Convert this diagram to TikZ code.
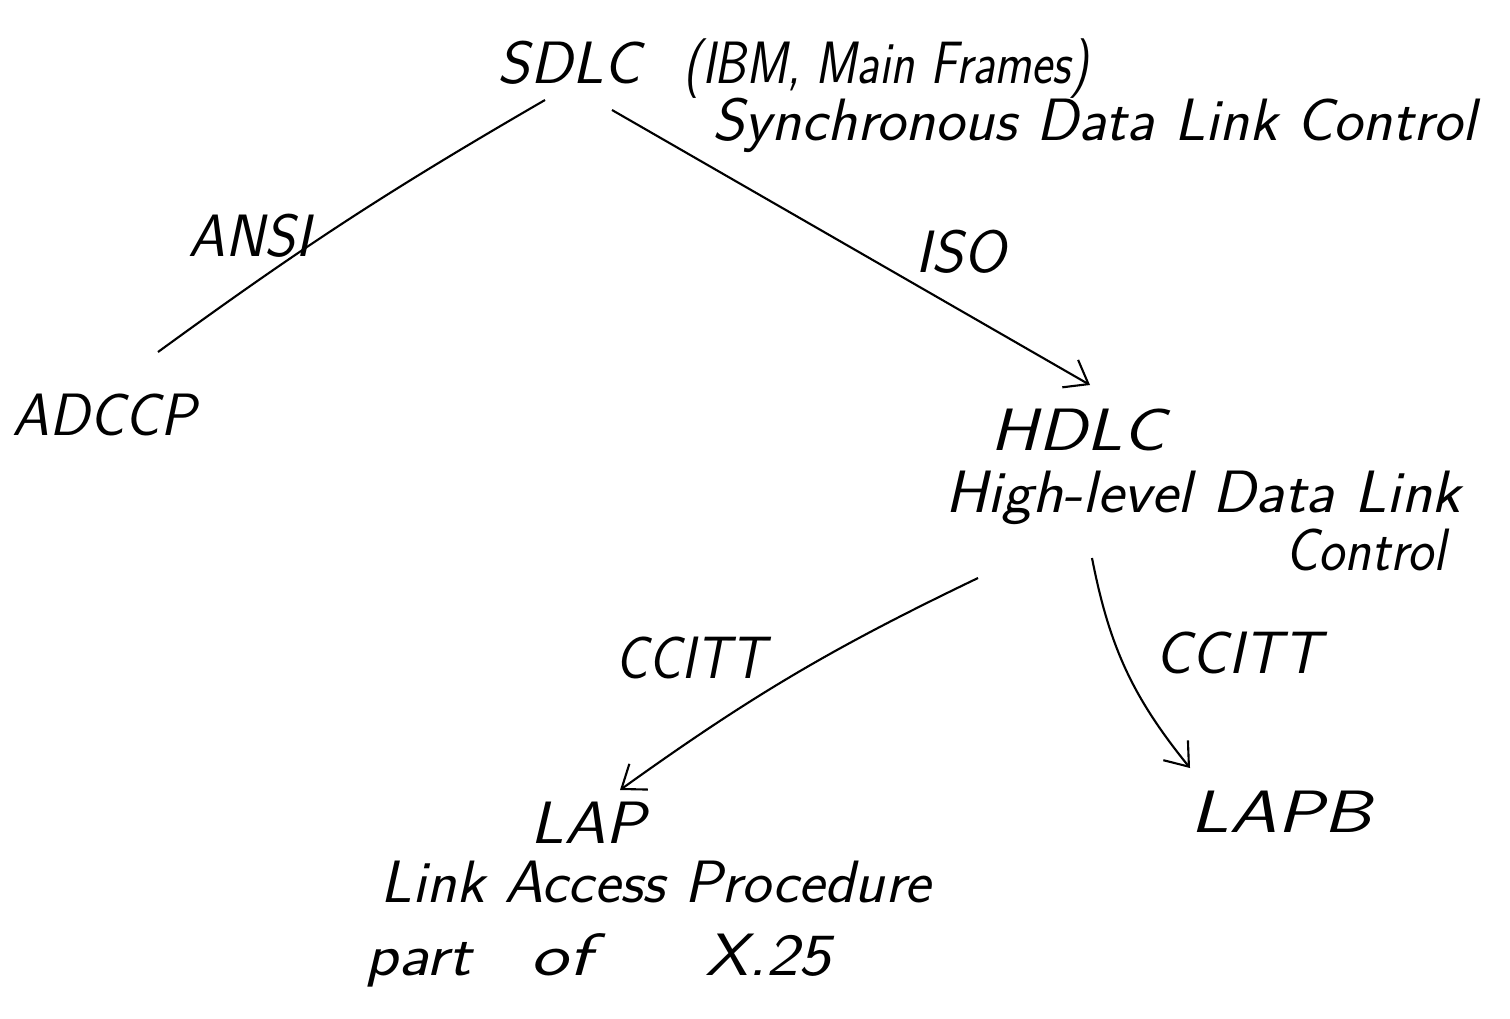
\documentclass[tikz,border=0pt]{standalone}
\usepackage{fontspec}
\usepackage{graphicx}
\usetikzlibrary{calc,arrows.meta}
\newcommand\fitw[2]{\resizebox{#1}{\height}{#2}}
\tikzset{
  hw/.style={font=\fontsize{17}{20}\selectfont\sffamily\slshape, inner sep=0pt, anchor=base west},
  conn/.style={line width=0.6pt},
  barb/.style={conn,-{Straight Barb[length=6pt,width=9pt,line width=0.6pt]}}
}
\begin{document}
\begin{tikzpicture}[x=0.01cm,y=-0.01cm]
\useasboundingbox (0,0) rectangle (1510,1018);
\node[hw] (sdlc)  at (497,83)  {\fitw{1.43cm}{SDLC}};
\node[hw] (ibm)   at (683,83)  {\fitw{4.05cm}{(IBM, Main Frames)}};
\node[hw] (sync)  at (712,140) {\fitw{7.63cm}{Synchronous Data Link Control}};
\node[hw] (ansi)  at (188,256) {\fitw{1.22cm}{ANSI}};
\node[hw] (iso)   at (915,272) {\fitw{0.90cm}{ISO}};
\node[hw] (adccp) at (12,435)  {\fitw{1.83cm}{ADCCP}};
\node[hw] (hdlc)  at (990,450) {\fitw{1.75cm}{HDLC}};
\node[hw] (hdlcd) at (945,512) {\fitw{5.15cm}{High-level Data Link}};
\node[hw] (ctrl)  at (1285,570){\fitw{1.60cm}{Control}};
\node[hw] (ccl)   at (615,678) {\fitw{1.50cm}{CCITT}};
\node[hw] (ccr)   at (1155,673){\fitw{1.65cm}{CCITT}};
\node[hw] (lap)   at (530,843) {\fitw{1.15cm}{LAP}};
\node[hw] (lapb)  at (1190,832){\fitw{1.80cm}{LAPB}};
\node[hw] (lapd)  at (380,902) {\fitw{5.50cm}{Link Access Procedure}};
\node[hw] (part)  at (365,975) {\fitw{1.05cm}{part}\hspace{0.6cm}\fitw{0.6cm}{of}\hspace{1.15cm}\fitw{1.25cm}{X.25}};

\draw[conn] ($(sdlc.base west)+(48,17)$) to[bend right=3] ($(adccp.base west)+(146,-83)$);
\draw[barb] ($(sdlc.base west)+(115,27)$) -- ($(hdlc.base west)+(100,-65)$);
\draw[barb] ($(hdlcd.base west)+(33,66)$) to[bend right=5] ($(lap.base west)+(90,-53)$);
\draw[barb] ($(hdlcd.base west)+(147,46)$) to[bend right=14] ($(lapb.base west)+(0,-64)$);
\end{tikzpicture}
\end{document}
